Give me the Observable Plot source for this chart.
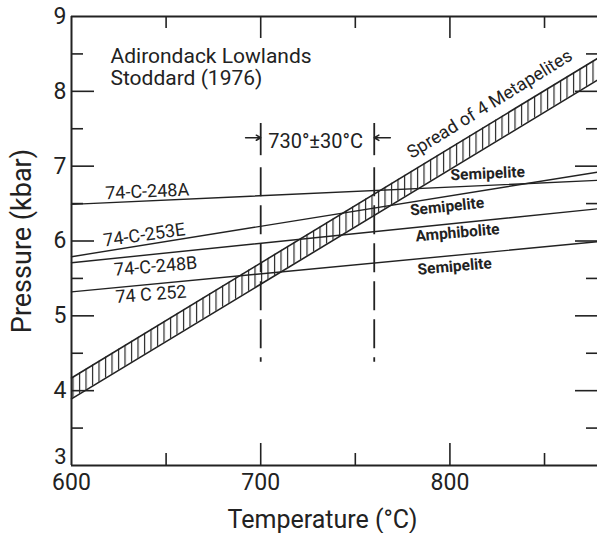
<!DOCTYPE html>
<html><head><meta charset="utf-8">
<script src="https://cdn.jsdelivr.net/npm/d3@7"></script>
<script src="https://cdn.jsdelivr.net/npm/@observablehq/plot@0.6"></script>
<style>body{margin:0;background:#fff} svg{display:block}</style>
</head><body><div id="chart"></div>
<script>
// ---- data ----
const bandT = [600, 878];
const bandLow = [3.89, 8.15];
const bandHigh = [4.17, 8.44];
const bandLabel = "Spread of 4 Metapelites";
const bandLabelPos = [821, 7.83];

const samples = ["74-C-248A", "74-C-253E", "74-C-248B", "74 C 252"];
const rockTypes = ["Semipelite", "Semipelite", "Amphibolite", "Semipelite"];
const lineT = [600, 878];
const pAtStart = [6.49, 5.79, 5.71, 5.32];
const pAtEnd = [6.81, 6.92, 6.43, 5.99];
const sampleLabelT = [640, 638.5, 644.5, 642];
const sampleLabelP = [6.66, 6.08, 5.66, 5.285];
const sampleLabelAngle = [-2.5, -8, -5, -4.5];
const rockLabelT = [820, 798.5, 804, 802.5];
const rockLabelP = [6.90, 6.46, 6.11, 5.66];
const rockLabelAngle = [-2.5, -6, -5, -5];

const estimateT = [700, 760];           // 730 ± 30 °C
const estimateLabel = "730°±30°C";
const estimateLabelPos = [729, 7.33];
const bracketP = [7.57, 7.14];
const dashedP = [6.98, 4.38];
const arrowP = 7.38;
const arrowFromT = [692, 768.5];

const titleLines = "Adirondack Lowlands\nStoddard (1976)";
const titlePos = [620.6, 8.59];

const xTickLabels = [600, 700, 800];
const yTickLabels = [3, 4, 5, 6, 7, 8, 9];
const xMajor = [700, 800], xMinor = [650, 750, 850];
const yMajor = [4, 5, 6, 7, 8], yMinor = [3.5, 4.5, 5.5, 6.5, 7.5, 8.5];
const xDomain = [600, 878], yDomain = [3, 9];

// ---- tables ----
const bandRows = bandT.map((T, i) => ({T, low: bandLow[i], high: bandHigh[i]}));
const lineRows = samples.flatMap((s, i) => [
  {sample: s, T: lineT[0], P: pAtStart[i]},
  {sample: s, T: lineT[1], P: pAtEnd[i]}
]);
const sampleRows = samples.map((s, i) => ({text: s, T: sampleLabelT[i], P: sampleLabelP[i], a: sampleLabelAngle[i]}));
const rockRows = rockTypes.map((s, i) => ({text: s, T: rockLabelT[i], P: rockLabelP[i], a: rockLabelAngle[i]}));

const W = 597, H = 533, mL = 71, mR = 0, mT = 16, mB = 68;
const iw = W - mL - mR, ih = H - mT - mB;
const ink = "#222";

const svg = Plot.plot({
  width: W, height: H,
  marginLeft: mL, marginRight: mR, marginTop: mT, marginBottom: mB,
  x: {domain: xDomain}, y: {domain: yDomain},
  axis: null,
  style: {fontFamily: "Roboto, 'DejaVu Sans', sans-serif", background: "#fff", color: ink},
  marks: [
    // hatched band
    Plot.areaY(bandRows, {x: "T", y1: "low", y2: "high", fill: "url(#hatch)"}),
    Plot.line(bandRows, {x: "T", y: "low", stroke: ink, strokeWidth: 1.6}),
    Plot.line(bandRows, {x: "T", y: "high", stroke: ink, strokeWidth: 1.6}),
    // sample lines
    Plot.line(lineRows, {x: "T", y: "P", z: "sample", stroke: ink, strokeWidth: 1.4}),
    // frame
    Plot.ruleX([xDomain[0]], {stroke: ink, strokeWidth: 2}),
    Plot.ruleY(yDomain, {stroke: ink, strokeWidth: 2}),
    // inward ticks
    Plot.ruleX(xMajor, {insetTop: ih - 22, stroke: ink, strokeWidth: 1.6}),
    Plot.ruleX(xMinor, {insetTop: ih - 12, stroke: ink, strokeWidth: 1.6}),
    Plot.ruleX(xMajor, {insetBottom: ih - 22, stroke: ink, strokeWidth: 1.6}),
    Plot.ruleX(xMinor, {insetBottom: ih - 12, stroke: ink, strokeWidth: 1.6}),
    Plot.ruleY(yMajor, {insetRight: iw - 23, stroke: ink, strokeWidth: 1.6}),
    Plot.ruleY(yMinor, {insetRight: iw - 12, stroke: ink, strokeWidth: 1.6}),
    Plot.ruleY(yMajor, {insetLeft: iw - 22, stroke: ink, strokeWidth: 1.6}),
    Plot.ruleY(yMinor, {insetLeft: iw - 11, stroke: ink, strokeWidth: 1.6}),
    // 730 ± 30 estimate
    Plot.ruleX(estimateT, {y1: bracketP[0], y2: bracketP[1], stroke: ink, strokeWidth: 1.8}),
    Plot.ruleX(estimateT, {y1: dashedP[0], y2: dashedP[1], stroke: ink, strokeWidth: 1.8, strokeDasharray: "29,9"}),
    Plot.arrow(estimateT, {x1: (d, i) => arrowFromT[i], x2: d => d, y1: arrowP, y2: arrowP, stroke: ink, strokeWidth: 1.5, headLength: 7}),
    Plot.text([estimateLabel], {x: estimateLabelPos[0], y: estimateLabelPos[1], text: d => d, fontSize: 20, fill: ink}),
    // labels
    Plot.text([titleLines], {x: titlePos[0], y: titlePos[1], text: d => d, textAnchor: "start", lineAnchor: "top", lineHeight: 1.05, fontSize: 21, fill: ink}),
    Plot.text([bandLabel], {x: bandLabelPos[0], y: bandLabelPos[1], text: d => d, rotate: -31.7, fontSize: 18, fill: ink}),
    Plot.text(sampleRows, {x: "T", y: "P", text: "text", rotate: "a", fontSize: 18, fill: ink}),
    Plot.text(rockRows, {x: "T", y: "P", text: "text", rotate: "a", fontSize: 15.5, fontWeight: "bold", fill: ink}),
    // tick labels
    Plot.text(xTickLabels, {x: d => d, frameAnchor: "bottom", lineAnchor: "middle", textAnchor: "middle", dy: 17, fontSize: 23, fill: ink}),
    Plot.text(yTickLabels.filter(d => d !== yDomain[0]), {y: d => d, frameAnchor: "left", lineAnchor: "middle", dx: -5, textAnchor: "end", fontSize: 23, fill: ink}),
    Plot.text(yTickLabels.filter(d => d === yDomain[0]), {y: d => d, frameAnchor: "left", lineAnchor: "middle", dx: -5, dy: -9, textAnchor: "end", fontSize: 22, fill: ink}),
    // axis titles
    Plot.text(["Temperature (°C)"], {frameAnchor: "bottom", lineAnchor: "middle", textAnchor: "middle", dx: -12, dy: 54, text: d => d, fontSize: 25, fill: ink}),
    Plot.text(["Pressure (kbar)"], {frameAnchor: "left", lineAnchor: "middle", textAnchor: "middle", dx: -49, text: d => d, rotate: -90, fontSize: 27, fill: ink})
  ]
});

d3.select(svg).insert("defs", ":first-child").html(
  `<pattern id="hatch" patternUnits="userSpaceOnUse" width="6.5" height="12">
     <line x1="1.5" y1="0" x2="1.5" y2="12" stroke="${ink}" stroke-width="1.2"/>
   </pattern>`);

document.getElementById("chart").appendChild(svg);
</script>
</body></html>
